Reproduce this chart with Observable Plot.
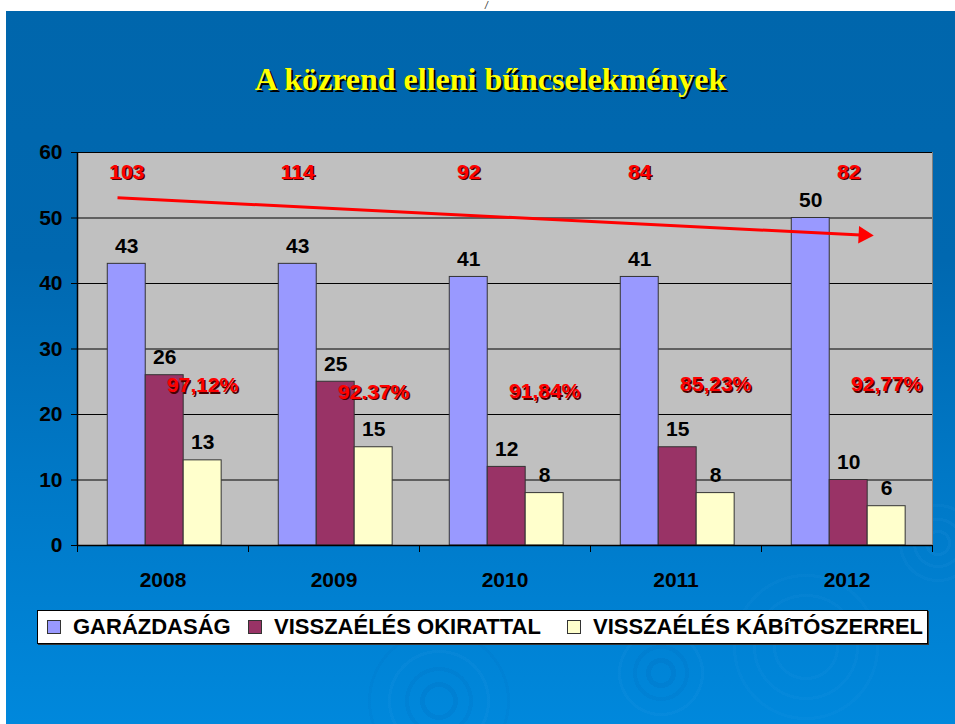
<!DOCTYPE html>
<html><head><meta charset="utf-8">
<script src="https://cdn.jsdelivr.net/npm/d3@7"></script>
<script src="https://cdn.jsdelivr.net/npm/@observablehq/plot@0.6"></script>
<style>
body{margin:0;background:#fff;}
#page{position:relative;width:955px;height:724px;overflow:hidden;font-family:"Liberation Sans",Arial,sans-serif;}
#slide{position:absolute;left:6px;top:11px;right:0;bottom:0;
background:
 radial-gradient(circle at 433px 690px, transparent 0 14px, rgba(0,70,150,.09) 14px 19px, transparent 19px 30px, rgba(0,70,150,.07) 30px 34px, transparent 34px 48px, rgba(80,170,240,.07) 48px 51px, transparent 51px 68px, rgba(0,70,150,.05) 68px 71px, transparent 71px),
 radial-gradient(circle at 655px 662px, transparent 0 10px, rgba(0,70,150,.09) 10px 15px, transparent 15px 24px, rgba(0,70,150,.07) 24px 28px, transparent 28px 40px, rgba(80,170,240,.07) 40px 43px, transparent 43px),
 radial-gradient(circle at 800px 636px, transparent 0 30px, rgba(80,170,240,.06) 30px 33px, transparent 33px 50px, rgba(80,170,240,.06) 50px 53px, transparent 53px 70px, rgba(80,170,240,.05) 70px 73px, transparent 73px),
 radial-gradient(circle at 932px 532px, transparent 0 10px, rgba(80,170,240,.08) 10px 13px, transparent 13px 22px, rgba(80,170,240,.07) 22px 25px, transparent 25px 36px, rgba(80,170,240,.06) 36px 39px, transparent 39px),
 linear-gradient(to bottom,#0066AC 0%,#0068B0 35%,#0078C6 65%,#0088DC 100%);}
#title{position:absolute;left:13px;width:955px;top:59px;text-align:center;font-family:"Liberation Serif","Times New Roman",serif;font-weight:bold;font-size:32px;line-height:40px;color:#FFFF00;text-shadow:2px 2px 0 #000;}
#mark{position:absolute;left:485px;top:0px;font-size:10px;line-height:11px;font-style:italic;color:#333;}
#chart{position:absolute;left:0;top:0;}
#legend{position:absolute;left:37px;top:610px;width:889px;height:32px;background:#fff;border:1px solid #000;box-shadow:1px 1px 0 #333;font-size:22px;font-weight:bold;color:#000;white-space:nowrap;}
.it{position:absolute;top:0;height:32px;display:flex;align-items:center;}
.sw{display:inline-block;width:12px;height:12px;border:1px solid #333;margin-right:12px;}
</style></head>
<body><div id="page"><div id="slide"></div><div id="mark">/</div><div id="title"></div><div id="chart"></div><div id="legend"></div></div>
<script>
const titleText = "A közrend elleni bűncselekmények";
const years = ["2008","2009","2010","2011","2012"];
const seriesNames = ["GARÁZDASÁG","VISSZAÉLÉS OKIRATTAL","VISSZAÉLÉS KÁBíTÓSZERREL"];
const seriesColors = ["#9999FF","#993366","#FFFFCC"];
const garazdasag = [43,43,41,41,50];
const okirattal = [26,25,12,15,10];
const kabitoszerrel = [13,15,8,8,6];
const totals = [103,114,92,84,82];
const totalsOverSeries = [0,0,0,0,1];
const totalsLevel = 57;
const percents = ["97,12%","92.37%","91,84%","85,23%","92,77%"];
const percentLevels = [24.4,23.4,23.5,24.6,24.6];
const percentsOverSeries = [2,2,2,2,2];
// trend arrow, x in year-index units, y in chart units
const trendStart = {x: 0.234, y: 53.1};
const trendEnd = {x: 4.58, y: 47.4};
const yTicks = [0,10,20,30,40,50,60];
const legendItemLeft = [9, 210, 529];

document.getElementById("title").textContent = titleText;

const series = [garazdasag, okirattal, kabitoszerrel];
const barW = 0.222;
const slot = (i,k) => i + 0.51 + (k-1)*barW;
const rows = years.flatMap((yr,i)=>series.map((vals,k)=>({year:yr,i,k,value:vals[i]})));
const totalRows = totals.map((t,i)=>({i, k: totalsOverSeries[i], text:String(t), y: totalsLevel}));
const pctRows = percents.map((p,i)=>({i, k: percentsOverSeries[i], text:p, y: percentLevels[i]}));

const redText = (data) => [
  Plot.text(data, {x: d=>slot(d.i,d.k), y:"y", text:"text", fill:"#4a0000", dx:1.5, dy:1.5, fontSize:21, fontWeight:"bold"}),
  Plot.text(data, {x: d=>slot(d.i,d.k), y:"y", text:"text", fill:"#FF0000", fontSize:21, fontWeight:"bold"})
];

const width = 955, height = 600, mL = 77, mR = 23, mT = 152, mB = 55;
// arrow head orientation from the trend's slope on screen
const angle = Math.atan2(((trendStart.y - trendEnd.y)/60)*(height-mT-mB), ((trendEnd.x - trendStart.x)/5)*(width-mL-mR)) * 180/Math.PI;

const chart = Plot.plot({
  width, height,
  marginLeft:mL, marginRight:mR, marginTop:mT, marginBottom:mB,
  style:{background:"transparent", fontFamily:"Liberation Sans, Arial, sans-serif", fontSize:"21px", fontWeight:"bold", color:"#000", overflow:"visible"},
  x:{type:"linear", domain:[0,5], axis:null},
  y:{domain:[0,60], axis:null},
  marks:[
    Plot.frame({fill:"#C0C0C0", stroke:"#808080"}),
    Plot.ruleY(yTicks.filter(v=>v>0), {stroke:"#000", strokeWidth:1}),
    Plot.rect(rows, {x1:d=>slot(d.i,d.k)-barW/2, x2:d=>slot(d.i,d.k)+barW/2, y1:0, y2:"value", fill:d=>seriesColors[d.k], stroke:"#333", strokeWidth:1}),
    Plot.text(rows, {x:d=>slot(d.i,d.k), y:"value", text:d=>String(d.value), lineAnchor:"bottom", dy:-11, fontSize:21, fontWeight:"bold", fill:"#000"}),
    Plot.ruleY([0], {stroke:"#000", strokeWidth:1.5}),
    Plot.ruleX([0], {stroke:"#000", strokeWidth:1.5}),
    Plot.axisX({ticks: d3.range(0, years.length+1), tickSize:7, tickFormat:()=>"", stroke:"#000"}),
    Plot.axisX({ticks: years.map((y,i)=>i+0.5), tickSize:0, tickPadding:27, tickFormat:d=>years[Math.floor(d)], fontSize:21, fontWeight:"bold", fill:"#000"}),
    Plot.axisY({ticks: yTicks, tickSize:6, tickPadding:9, fontSize:21, fontWeight:"bold", fill:"#000", stroke:"#000"}),
    ...redText(totalRows),
    ...redText(pctRows),
    Plot.link([{x1:trendStart.x, y1:trendStart.y, x2:trendEnd.x, y2:trendEnd.y}], {x1:"x1", y1:"y1", x2:"x2", y2:"y2", stroke:"#FF0000", strokeWidth:3}),
    Plot.dot([trendEnd], {x:"x", y:"y", symbol:"triangle", r:6.5, fill:"#FF0000", stroke:"none", rotate:90+angle, dx:3})
  ]
});
document.getElementById("chart").appendChild(chart);

const legend = document.getElementById("legend");
seriesNames.forEach((n,k)=>{
  const it = document.createElement("span"); it.className="it"; it.style.left = legendItemLeft[k]+"px";
  const sw = document.createElement("span"); sw.className="sw"; sw.style.background = seriesColors[k];
  const lb = document.createElement("span"); lb.textContent = n;
  it.appendChild(sw); it.appendChild(lb); legend.appendChild(it);
});
</script></body></html>
